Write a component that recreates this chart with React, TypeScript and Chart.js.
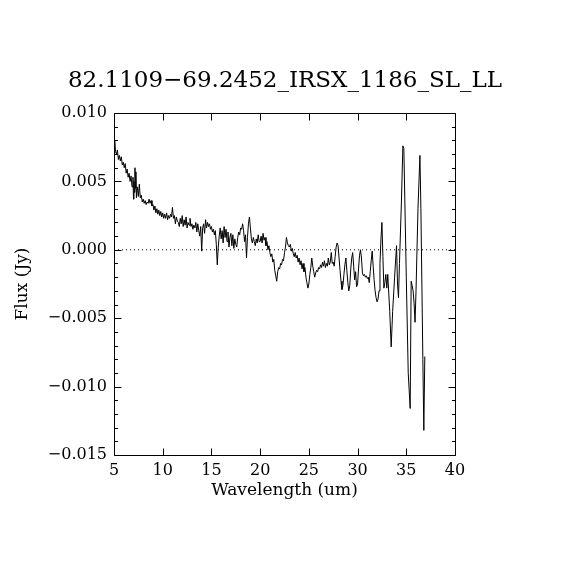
import { useEffect, useRef } from "react";
import { Chart, registerables } from "chart.js";

Chart.register(...registerables);

const TITLE = "82.1109\u221269.2452_IRSX_1186_SL_LL";
const X_LABEL = "Wavelength (um)";
const Y_LABEL = "Flux (Jy)";

const X_MIN = 5;
const X_MAX = 40;
const Y_MIN = -0.015;
const Y_MAX = 0.01;

const xTicks = [5, 10, 15, 20, 25, 30, 35, 40];
const yTicks = [-0.015, -0.01, -0.005, 0, 0.005, 0.01];
const yMinorStep = 0.001;

const wavelength = [
  5.0, 5.05, 5.1, 5.15, 5.25, 5.35, 5.45, 5.55, 5.65, 5.75, 5.85, 5.95, 6.05, 6.15, 6.25, 6.35, 6.45, 6.55, 6.65, 6.75,
  6.85, 6.95, 7.0, 7.05, 7.1, 7.15, 7.2, 7.25, 7.3, 7.4, 7.5, 7.6, 7.7, 7.8, 7.9, 8.0, 8.1, 8.2, 8.3, 8.4,
  8.5, 8.6, 8.7, 8.8, 8.9, 9.0, 9.1, 9.2, 9.3, 9.4, 9.5, 9.6, 9.7, 9.8, 9.9, 10.0, 10.1, 10.2, 10.3, 10.4,
  10.5, 10.6, 10.7, 10.8, 10.9, 11.0, 11.1, 11.2, 11.3, 11.4, 11.5, 11.6, 11.7, 11.8, 11.9, 12.0, 12.1, 12.2, 12.3, 12.4,
  12.5, 12.6, 12.7, 12.8, 12.9, 13.0, 13.1, 13.2, 13.3, 13.4, 13.5, 13.6, 13.7, 13.8, 13.9, 14.0, 14.1, 14.2, 14.3, 14.4,
  14.5, 14.6, 14.7, 14.8, 14.9, 15.0, 15.1, 15.2, 15.3, 15.4, 15.5, 15.6, 15.7, 15.8, 15.9, 16.0, 16.1, 16.2, 16.3, 16.4,
  16.5, 16.6, 16.7, 16.8, 16.9, 17.0, 17.1, 17.2, 17.3, 17.4, 17.5, 17.6, 17.7, 17.8, 17.9, 18.0, 18.1, 18.2, 18.3, 18.4,
  18.5, 18.6, 18.7, 18.8, 18.9, 19.0, 19.1, 19.2, 19.3, 19.4, 19.5, 19.6, 19.7, 19.8, 19.9, 20.0, 20.1, 20.2, 20.3, 20.4,
  20.5, 20.6, 20.7, 20.8, 20.9, 21.0, 21.1, 21.2, 21.3, 21.4, 21.5, 21.6, 21.7, 21.8, 21.9, 22.0, 22.1, 22.2, 22.3, 22.4,
  22.5, 22.6, 22.7, 22.8, 22.9, 23.0, 23.1, 23.2, 23.3, 23.4, 23.5, 23.6, 23.7, 23.8, 23.9, 24.0, 24.1, 24.2, 24.3, 24.4,
  24.5, 24.6, 24.7, 24.8, 24.9, 25.0, 25.1, 25.2, 25.3, 25.4, 25.5, 25.6, 25.7, 25.8, 25.9, 26.0, 26.1, 26.2, 26.3, 26.4,
  26.5, 26.6, 26.7, 26.8, 26.9, 27.0, 27.1, 27.2, 27.3, 27.4, 27.5, 27.6, 27.7, 27.8, 27.9, 28.0, 28.1, 28.2, 28.3, 28.4,
  28.5, 28.6, 28.7, 28.8, 28.9, 29.0, 29.1, 29.2, 29.3, 29.4, 29.5, 29.6, 29.7, 29.8, 29.9, 30.0, 30.1, 30.2, 30.3, 30.4,
  30.5, 30.6, 30.7, 30.8, 30.9, 31.0, 31.1, 31.2, 31.3, 31.4, 31.5, 31.6, 31.7, 31.8, 31.9, 32.0, 32.1, 32.2, 32.3, 32.4,
  32.5, 32.6, 32.7, 32.8, 32.9, 33.0, 33.1, 33.3, 33.45, 33.6, 33.8, 34.0, 34.1, 34.2, 34.3, 34.5, 34.65, 34.75, 35.0, 35.2,
  35.4, 35.5, 35.6, 35.7, 35.8, 35.9, 36.0, 36.2, 36.4, 36.5, 36.7, 36.8, 36.9,
];

const flux = [
  0.0079, 0.0074, 0.008, 0.0072, 0.007, 0.0073, 0.0066, 0.0069, 0.0065, 0.0068, 0.0062, 0.0064, 0.006, 0.0063, 0.0056, 0.0059, 0.0053, 0.0056, 0.005, 0.0054,
  0.0046, 0.0053, 0.0037, 0.005, 0.0042, 0.006, 0.0045, 0.0057, 0.0038, 0.0046, 0.0039, 0.0048, 0.0038, 0.004, 0.0035, 0.0037, 0.0034, 0.0036, 0.0033, 0.0035,
  0.0034, 0.0037, 0.0034, 0.0036, 0.0032, 0.0033, 0.0029, 0.0032, 0.0027, 0.003, 0.0026, 0.0029, 0.0025, 0.0028, 0.0024, 0.0027, 0.0023, 0.0026, 0.0023, 0.0027,
  0.0022, 0.0025, 0.0023, 0.0026, 0.0024, 0.0031, 0.0023, 0.0025, 0.0019, 0.0024, 0.0021, 0.002, 0.0017, 0.0023, 0.0019, 0.0025, 0.0017, 0.0022, 0.0018, 0.0024,
  0.0016, 0.002, 0.0018, 0.0023, 0.0017, 0.0019, 0.0015, 0.0018, 0.0016, 0.002, 0.0013, 0.0019, 0.0014, 0.001, 0.0017, -0.0001, 0.0016, 0.0019, 0.0012, 0.0022,
  0.0016, 0.002, 0.0017, 0.0019, 0.0015, 0.0017, 0.0013, 0.0015, 0.0011, 0.0014, 0.0004, -0.0011, 0.0002, 0.001, 0.0016, 0.0008, 0.0014, 0.0005, 0.0017, 0.0009,
  0.0015, 0.0006, 0.0013, 0.0002, 0.0009, 0.0012, 0.0003, 0.0011, 0.0001, 0.0008, 0.0004, 0.0002, 0.0009, 0.0013, 0.0011, 0.0016, 0.0015, 0.0019, 0.0014, 0.0006,
  0.0011, -0.0006, 0.0009, 0.0019, 0.0024, 0.0016, 0.0008, 0.0005, 0.0009, 0.0006, 0.0003, 0.0008, 0.0005, 0.0011, 0.0006, 0.0006, 0.001, 0.0005, 0.0012, 0.0007,
  0.0009, 0.0003, 0.0006, 0.0, 0.0003, -0.0002, -0.0005, -0.0003, -0.0009, -0.0007, -0.0015, -0.0019, -0.0023, -0.0016, -0.0013, -0.0014, -0.001, -0.0011, -0.0007, -0.0008,
  -0.0002, 0.0002, 0.0009, 0.0005, 0.0003, 0.0002, 0.0004, -0.0001, 0.0001, -0.0003, -0.0005, -0.0002, -0.0006, -0.0004, -0.0009, -0.0006, -0.0011, -0.0008, -0.0014, -0.001,
  -0.0016, -0.0013, -0.002, -0.0024, -0.0028, -0.0025, -0.0018, -0.0013, -0.0006, -0.0012, -0.0016, -0.002, -0.0017, -0.0015, -0.0016, -0.0013, -0.0014, -0.0011, -0.0013, -0.0009,
  -0.0012, -0.0008, -0.0013, -0.001, -0.0012, -0.0006, -0.0011, -0.0009, -0.0002, -0.001, -0.0009, -0.0012, -0.0005, 0.0002, 0.0005, 0.0003, -0.0006, -0.0015, -0.0023, -0.0029,
  -0.0026, -0.0018, -0.0011, -0.0006, -0.0015, -0.0024, -0.003, -0.0026, -0.0014, -0.0006, -0.0002, -0.0012, -0.0022, -0.0016, -0.0027, -0.0025, -0.0014, -0.0004, 0.0, -0.0006,
  -0.0017, -0.0019, -0.0018, -0.002, -0.0019, -0.0021, -0.002, -0.0024, -0.0016, -0.0008, -0.0001, -0.0012, -0.0022, -0.003, -0.0035, -0.0038, -0.0036, -0.003, -0.001, 0.0008,
  0.002, -0.0005, -0.0028, -0.0024, -0.0018, -0.0028, -0.0018, -0.0045, -0.0071, -0.0045, -0.002, 0.0003, -0.0025, -0.0035, -0.001, 0.0035, 0.0076, 0.0074, -0.002, -0.009,
  -0.0116, -0.0023, -0.0026, -0.003, -0.0039, -0.0053, -0.003, 0.003, 0.0069, 0.003, -0.008, -0.0132, -0.0078,
];

const zeroLine = [
  { x: X_MIN, y: 0 },
  { x: X_MAX, y: 0 },
];

const FONT = "'DejaVu Serif', serif";

const framePlugin = {
  id: "idlFrame",
  afterDatasetsDraw(chart: any) {
    const { ctx, chartArea: a, scales } = chart;
    const x = scales.x;
    const y = scales.y;
    const major = 7;
    const minor = 3.5;
    ctx.save();
    ctx.strokeStyle = "#000";
    ctx.lineWidth = 1;
    ctx.beginPath();
    const L = Math.round(a.left) + 0.5;
    const R = Math.round(a.right) + 0.5;
    const T = Math.round(a.top) + 0.5;
    const B = Math.round(a.bottom) + 0.5;
    ctx.moveTo(L, T);
    ctx.lineTo(R, T);
    ctx.lineTo(R, B);
    ctx.lineTo(L, B);
    ctx.closePath();
    for (const v of xTicks) {
      const px = Math.round(x.getPixelForValue(v)) + 0.5;
      ctx.moveTo(px, B);
      ctx.lineTo(px, B - major);
      ctx.moveTo(px, T);
      ctx.lineTo(px, T + major);
    }
    const n = Math.round((Y_MAX - Y_MIN) / yMinorStep);
    for (let i = 0; i <= n; i++) {
      const v = Y_MIN + i * yMinorStep;
      const isMajor = i % 5 === 0;
      const len = isMajor ? major : minor;
      const py = Math.round(y.getPixelForValue(v)) + 0.5;
      ctx.moveTo(L, py);
      ctx.lineTo(L + len, py);
      ctx.moveTo(R, py);
      ctx.lineTo(R - len, py);
    }
    ctx.stroke();
    ctx.restore();
  },
};

export default function App() {
  const ref = useRef<HTMLCanvasElement | null>(null);

  useEffect(() => {
    if (!ref.current) return;
    const chart = new Chart(ref.current, {
      type: "line",
      data: {
        datasets: [
          {
            data: wavelength.map((w, i) => ({ x: w, y: flux[i] })),
            borderColor: "#000",
            borderWidth: 1,
            pointRadius: 0,
            tension: 0,
            fill: false,
          },
          {
            data: zeroLine,
            borderColor: "#000",
            borderWidth: 1,
            borderDash: [1, 3],
            pointRadius: 0,
            fill: false,
          },
        ],
      },
      plugins: [framePlugin],
      options: {
        animation: false,
        responsive: true,
        maintainAspectRatio: false,
        devicePixelRatio: 1,
        layout: { padding: 0 },
        plugins: {
          legend: { display: false },
          tooltip: { enabled: false },
          title: {
            display: true,
            text: TITLE,
            color: "#000",
            font: { family: FONT, size: 23, weight: "normal", lineHeight: 1.2 },
            padding: { top: 67, bottom: 18.4 },
          },
        },
        scales: {
          x: {
            type: "linear",
            min: X_MIN,
            max: X_MAX,
            grid: { display: false, drawTicks: false },
            border: { display: false },
            afterBuildTicks: (s: any) => {
              s.ticks = xTicks.map((v) => ({ value: v }));
            },
            afterFit: (s: any) => {
              s.height = 115;
            },
            ticks: {
              color: "#000",
              padding: 6,
              maxRotation: 0,
              font: { family: FONT, size: 16 },
              callback: (v: any) => String(v),
            },
            title: {
              display: true,
              text: X_LABEL,
              color: "#000",
              font: { family: FONT, size: 17, lineHeight: 1.2 },
              padding: { top: 0, bottom: 68.8 },
            },
          },
          y: {
            type: "linear",
            min: Y_MIN,
            max: Y_MAX,
            grid: { display: false, drawTicks: false },
            border: { display: false },
            afterBuildTicks: (s: any) => {
              s.ticks = yTicks.map((v) => ({ value: v }));
            },
            afterFit: (s: any) => {
              s.width = 114;
            },
            ticks: {
              color: "#000",
              padding: 7,
              font: { family: FONT, size: 16 },
              callback: (v: any) => {
                const n = Number(v);
                const s = Math.abs(n).toFixed(3);
                return n < -1e-9 ? "\u2212" + s : s;
              },
            },
            title: {
              display: true,
              text: Y_LABEL,
              color: "#000",
              font: { family: FONT, size: 17, lineHeight: 1.2 },
              padding: { top: 12, bottom: 0 },
            },
          },
          yRight: {
            type: "linear",
            position: "right",
            min: Y_MIN,
            max: Y_MAX,
            grid: { display: false, drawTicks: false },
            border: { display: false },
            ticks: { display: false },
            afterFit: (s: any) => {
              s.width = 115;
            },
          },
        },
      },
    });
    return () => chart.destroy();
  }, []);

  return (
    <div style={{ position: "fixed", left: 0, top: 0, width: 570, height: 570, background: "#fff" }}>
      <canvas ref={ref} width={570} height={570} />
    </div>
  );
}
